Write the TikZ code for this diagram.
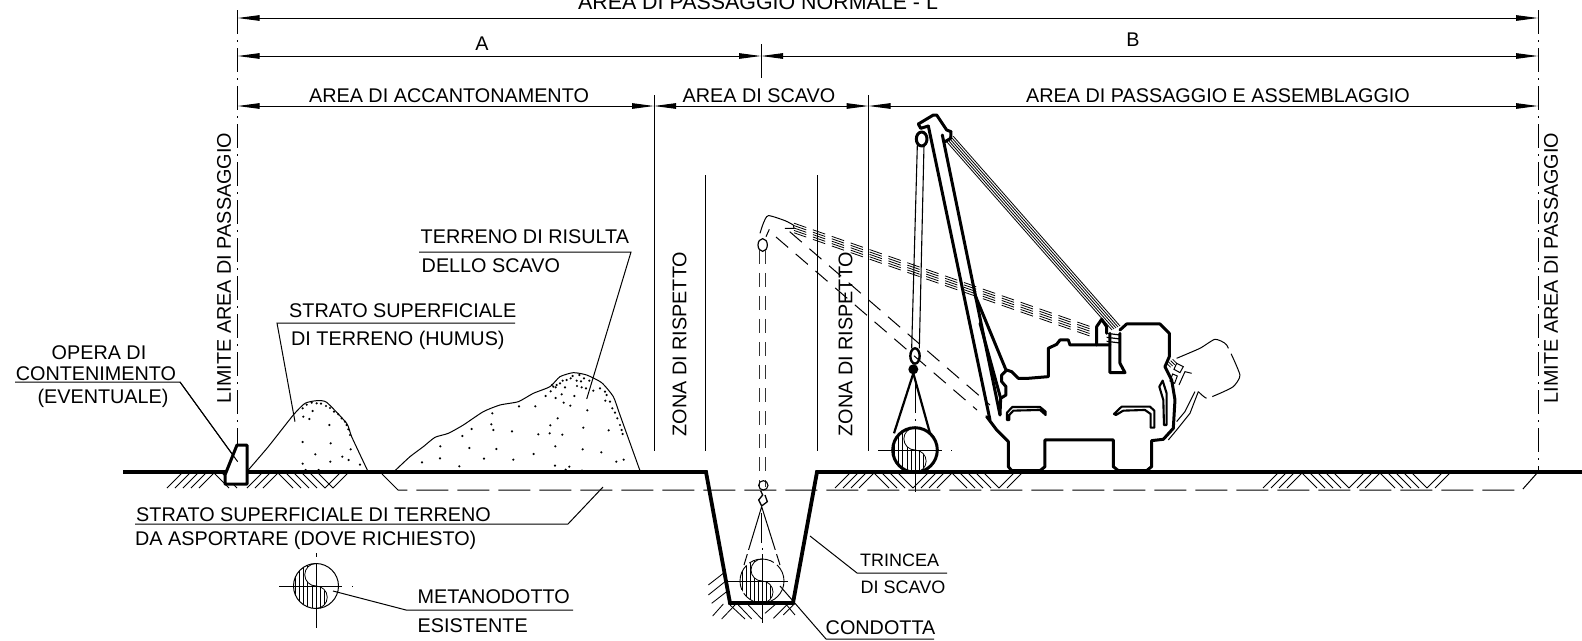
\documentclass[tikz,border=0pt]{standalone}
\usepackage{fontspec}
\setmainfont{Liberation Sans}
\usetikzlibrary{arrows.meta}
\newcommand\pipesym[4]{%
\begin{scope}[shift={(#1,#2)}]
\begin{scope}
\clip (0,-#3) arc[start angle=270,end angle=90,radius=#3/2] arc[start angle=-90,end angle=90,radius=#3/2] arc[start angle=90,end angle=270,radius=#3];
\foreach \k in {-5,...,5} \draw[line width=.8pt] ({\k*#3/5.5},-#3)--({\k*#3/5.5},#3);
\end{scope}
\draw[line width=.8pt] (0,-#3) arc[start angle=270,end angle=90,radius=#3/2] arc[start angle=-90,end angle=90,radius=#3/2];
\draw[#4] (0,0) circle[radius=#3];
\end{scope}}
\tikzset{
 lab/.style={inner sep=0pt,yshift=-1pt,font=\fontsize{19.8}{21}\selectfont,text=black},
 labs/.style={inner sep=0pt,yshift=-.5pt,font=\fontsize{18}{20}\selectfont,text=black},
 thin line/.style={line width=1pt,draw=black},
 dim/.style={line width=1pt,draw=black,{Triangle[length=22pt,width=5.5pt]}-{Triangle[length=22pt,width=5.5pt]}},
 limit/.style={line width=1pt,dash pattern=on 24pt off 6pt on 2pt off 6pt},
 ground/.style={line width=3.8pt,line join=miter},
 hatchl/.style={line width=.85pt},
 body/.style={line width=3pt,line join=round,line cap=round},
 ghost/.style={line width=1pt,dash pattern=on 14pt off 9pt},
 dots/.style={line width=1pt,dash pattern=on 32pt off 9pt}
}
\begin{document}
\begin{tikzpicture}[x=1pt,y=-1pt]
\useasboundingbox (0,0) rectangle (1582,640);
\fill[white] (0,0) rectangle (1582,640);
% reference coordinates
\coordinate (LT) at (237.5,10); \coordinate (LB) at (237.5,445);
\coordinate (RT) at (1538,10);  \coordinate (RB) at (1538,472);
\coordinate (L0) at (237.5,18); \coordinate (R0) at (1538,18);
\coordinate (L1) at (237.5,56); \coordinate (R1) at (1538,56); \coordinate (M1) at (761,56);
\coordinate (L2) at (237.5,106);\coordinate (R2) at (1538,106);\coordinate (P2) at (654,106);\coordinate (Q2) at (868.5,106);
\draw[limit] (LT)--(LB);
\draw[limit] (RT)--(RB);
\draw[dim] (L0)--(R0);
\draw[dim] (L1)--(M1);
\draw[dim] (M1)--(R1);
\draw[dim] (L2)--(P2);
\draw[dim] (P2)--(Q2);
\draw[dim] (Q2)--(R2);
\coordinate (MT) at (761,44); \coordinate (MB) at (761,78);
\draw[thin line] (MT)--(MB);
\coordinate (PT) at (654,95); \coordinate (PB) at (654,451);
\coordinate (QT) at (868.5,95); \coordinate (QB) at (868.5,451);
\coordinate (ZT) at (705,175); \coordinate (ZB) at (705,451);
\coordinate (YT) at (817,175); \coordinate (YB) at (817,451);
\draw[thin line] (PT)--(PB);
\draw[thin line] (QT)--(QB);
\draw[thin line] (ZT)--(ZB);
\draw[thin line] (YT)--(YB);
% texts
\node[lab,font=\fontsize{21.4}{22}\selectfont] (t0) at (758,1.5) {AREA DI PASSAGGIO NORMALE - L};
\node[lab] (tA) at (482,43) {A};
\node[lab] (tB) at (1133,39) {B};
\node[lab] (t1) at (449,95) {AREA DI ACCANTONAMENTO};
\node[lab] (t2) at (759,95) {AREA DI SCAVO};
\node[lab] (t3) at (1218,95) {AREA DI PASSAGGIO E ASSEMBLAGGIO};
\node[lab,rotate=90] (t4) at (224,267) {LIMITE AREA DI PASSAGGIO};
\node[lab,rotate=90] (t5) at (1551,267) {LIMITE AREA DI PASSAGGIO};
\node[lab,rotate=90] (t6) at (679.5,343) {ZONA DI RISPETTO};
\node[lab,rotate=90] (t7) at (845.5,343) {ZONA DI RISPETTO};
\node[lab] (t8) at (99,352) {OPERA DI};
\node[lab] (t9) at (96,373) {CONTENIMENTO};
\node[lab] (t10) at (103,397) {(EVENTUALE)};
\node[lab,anchor=west] (t11) at (420.5,236) {TERRENO DI RISULTA};
\node[lab,anchor=west] (t12) at (421.5,265) {DELLO SCAVO};
\node[lab,anchor=west] (t13) at (289,310) {STRATO SUPERFICIALE};
\node[lab,anchor=west] (t14) at (291,339) {DI TERRENO (HUMUS)};
\node[lab,anchor=west] (t15) at (136,514) {STRATO SUPERFICIALE DI TERRENO};
\node[lab,anchor=west] (t16) at (135,539) {DA ASPORTARE (DOVE RICHIESTO)};
\node[lab,anchor=west] (t17) at (417.5,596) {METANODOTTO};
\node[lab,anchor=west] (t18) at (417.5,625) {ESISTENTE};
\node[labs,anchor=west] (t19) at (860,560) {TRINCEA};
\node[labs,anchor=west] (t20) at (860.5,587) {DI SCAVO};
\node[lab,anchor=west] (t21) at (825.5,627) {CONDOTTA};
% leaders
\coordinate (a1) at (15,382); \coordinate (a2) at (180,382); \coordinate (a3) at (237.7,461.7);
\draw[thin line] (a1)--(a2)--(a3);
\coordinate (b1) at (419,252); \coordinate (b2) at (631,252); \coordinate (b3) at (586.7,399);
\draw[thin line] (b1)--(b2)--(b3);
\coordinate (c1) at (515,323); \coordinate (c2) at (277,323); \coordinate (c3) at (295,421.7);
\draw[thin line] (c1)--(c2)--(c3);
\coordinate (d1) at (135,524); \coordinate (d2) at (568,524); \coordinate (d3) at (603,487);
\draw[thin line] (d1)--(d2)--(d3);
\coordinate (e1) at (333,591); \coordinate (e2) at (406,610); \coordinate (e3) at (573,610);
\draw[thin line] (e1)--(e2)--(e3);
\coordinate (f1) at (810,536); \coordinate (f2) at (857,573); \coordinate (f3) at (947,573);
\draw[thin line] (f1)--(f2)--(f3);
\coordinate (g1) at (780,586); \coordinate (g2) at (826,639); \coordinate (g3) at (934,639);
\draw[thin line] (g1)--(g2)--(g3);
% hatching
\foreach \x/\d in {182/-1,190/-1,198/-1,206/-1,214/-1,214/1,222/1,262/-1,270/-1,278/-1,278/1,286/1,294/1,302/1,310/1,318/1,348/-1,340/-1}
 \draw[hatchl] (\x,473)--(\x+\d*15,488);
\foreach \x/\d in {850/-1,858/-1,866/-1,874/-1,874/1,882/1,890/1,898/1,928/-1,936/-1,944/-1,952/-1,952/1,960/1,968/1,976/1,984/1,1014/-1,1022/-1}
 \draw[hatchl] (\x,473)--(\x+\d*15,488);
\foreach \x/\d in {1278/-1,1286/-1,1294/-1,1302/-1,1302/1,1310/1,1318/1,1326/1,1334/1,1364/-1,1372/-1,1380/-1,1380/1,1388/1,1396/1,1404/1,1412/1,1442/-1,1450/-1}
 \draw[hatchl] (\x,473)--(\x+\d*15,488);
\begin{scope}[shift={(680,450)},x=.3333pt,y=-.3333pt]
\foreach \a/\b/\c/\d in {85/405/130/370,85/435/135/395,95/460/140/425,98/498/130/462,125/507/165/465,150/465/195/507,175/465/215/507,205/465/245/507,255/490/290/460,280/505/320/465,310/495/340/465,320/465/345/495}
 \draw[hatchl] (\a,\b)--(\c,\d);
\end{scope}
% piles
\begin{scope}[shift={(120,370)},x=.3333pt,y=-.3333pt]
\draw[line width=1pt] plot[smooth,tension=.35] coordinates {(385,300)(445,230)(520,135)(555,100)(590,92)(620,97)(680,160)(695,200)(742,300)};
\foreach \a/\b in {550/140,568/147,578/123,628/165,548/216,632/220,692/238,586/253,667/260,686/270,548/281,631/275,720/284,557/300,596/300,548/115,560/104,575/98,590/100,603/101,618/108,630/114,642/125,655/133,665/145,675/155,680/165,685/178,690/195}
 \fill (\a,\b) circle (1.2pt);
\end{scope}
\begin{scope}[shift={(380,350)},x=.3333pt,y=-.3333pt]
\draw[line width=1pt] plot[smooth,tension=.35] coordinates {(45,362)(90,320)(130,290)(165,262)(205,250)(250,225)(310,185)(360,165)(415,155)(460,130)(510,110)(540,80)(580,68)(620,75)(665,98)(700,140)(720,195)(780,362)};
\foreach \a/\b in {126/337,180/325,238/349,312/326,400/329,461/312,525/347,543/363,557/359,568/350,606/362,709/335,731/329,664/307,608/298,526/289,349/297,268/294,181/289,247/258,275/237,340/240,334/223,396/244,475/253,509/250,547/254,511/226,533/205,610/233,686/241,622/181,337/190,417/169,466/169,551/158,571/167,583/138,527/144,545/133,497/138,512/124,520/110,530/105,540/100,548/92,560/90,572/85,578/78,590/92,603/94,598/75,612/85,628/92,591/108,605/112,618/115,640/122,660/115,675/125,680/135,676/152,690/155,697/175,705/188,712/205,720/225,725/240,728/252,516/105,527/112,555/112}
 \fill (\a,\b) circle (1.2pt);
\end{scope}
% ground
\coordinate (G0) at (123,472); \coordinate (T1) at (706,472); \coordinate (T2) at (730,603);
\coordinate (T3) at (793,603); \coordinate (T4) at (817,472); \coordinate (G1) at (1582,472);
\draw[ground] (G0)--(T1)--(T2)--(T3)--(T4)--(G1);
% dashed strip line
\coordinate (s1) at (382,474); \coordinate (s2) at (398,490); \coordinate (s3) at (1522,490); \coordinate (s4) at (1538,472);
\draw[dots] (s1)--(s2)--(s3)--(s4);
% wall
\draw[line width=3pt,line join=round,fill=white] (237,445)--(247,445)--(247,484)--(225,484)--(225,475)--cycle;
\draw[thin line] (237.7,461.7)--(a2);
% existing pipeline
\pipesym{316}{586}{22.5}{line width=1pt}
\draw[line width=1pt] (279,586)--(342,586) (352,586)--(353,586) (316,553)--(316,557) (316,563)--(316,628);
% trench ghost pipe
\pipesym{762}{581}{22}{line width=.9pt,dash pattern=on 26pt off 4pt}
\draw[line width=1pt] (728,581)--(788,581) (762,548)--(762,623);
% slung pipe
\pipesym{915}{450}{22.3}{line width=3pt}
\draw[line width=1pt] (878,450)--(942,450) (951,450)--(952,450) (915,428)--(915,492);
% ghost crane
\begin{scope}[shift={(690,200)},x=.3333pt,y=-.3333pt]
\draw[line width=1pt,line join=round] plot[smooth,tension=.4] coordinates {(210,100)(220,70)(235,47)(285,62)(310,75)};
\draw[line width=1pt] (310,75)--(312,85)--(285,85);
\draw[line width=1pt] (228,110)--(238,88);
\draw[line width=1.2pt] (218,135) ellipse[x radius=14,y radius=19];
\foreach \X in {208,226} \draw[ghost,draw=black!80] (\X,150)--(\X,860);
\end{scope}
\coordinate (ga1) at (789.7,231.7); \coordinate (ga2) at (990,405);
\coordinate (gb1) at (776,237); \coordinate (gb2) at (977,410);
\draw[ghost,dash pattern=on 16pt off 10pt] (ga1)--(ga2);
\draw[ghost,dash pattern=on 16pt off 10pt] (gb1)--(gb2);
\foreach \k in {-2,-1,0,1,2}
 \draw[line width=.8pt,dash pattern=on 13pt off 7pt] (794,{228+\k*2.4})--(1095,{333+\k*2.4});
% hook in trench
\begin{scope}[shift={(680,450)},x=.3333pt,y=-.3333pt]
\draw[line width=1.1pt] (250,106) ellipse[x radius=14,y radius=14];
\draw[line width=1.3pt] (242,122)--(248,135)--(236,150)--(245,168)--(262,155)--(255,135);
\draw[line width=1pt] (245,170)--(192,345) (245,170)--(300,345);
\draw[line width=1pt,dash pattern=on 30pt off 12pt] (245,190)--(245,300);
\fill[white] (200,200) rectangle (225,225);
\fill[white] (270,205) rectangle (290,230);
\fill[white] (178,300) rectangle (320,312);
\end{scope}
% crane
\begin{scope}[shift={(880,100)},x=.3333pt,y=-.3333pt]
\draw[body] (320,950)--(350,990)--(385,1025)--(385,1100)--(395,1112)--(480,1112)--(495,1100)--(495,1020)--(700,1020)--(700,1100)--(715,1112)--(800,1112)--(815,1100)--(815,1022)--(850,1018)--(880,985)--(885,900)--(875,840)--(855,800)--(868,770)--(868,700)--(840,672)--(740,672)--(720,690);
\draw[body] (690,735)--(650,735)--(570,735)--(565,720)--(540,720)--(530,733)--(505,745)--(505,830)--(445,835)--(415,835)--(395,815)--(380,810)--(365,825)--(365,845)--(378,860)--(378,885)--(362,895)--(360,945);
\draw[body] (650,735)--(650,680)--(665,658)--(680,680)--(680,700);
\draw[body] (690,700)--(690,818)--(735,818)--(720,790)--(720,700);
\draw[line width=1.2pt] (680,700)--(720,705) (680,712)--(720,717) (680,724)--(720,729);
% boom
\draw[body] (145,78)--(330,960);
\draw[body] (187,105)--(360,945);
\draw[body] (285,585)--(378,810);
\draw[body] (300,670)--(362,895);
\draw[body] (115,72)--(160,45)--(170,45)--(200,90)--(213,95)--(212,115)--(195,125);
\draw[body] (115,72)--(122,85)--(145,78);
\draw[body] (125,117) ellipse[x radius=16,y radius=21];
% cables to the stern
\foreach \k in {0,...,4}
 \draw[line width=.8pt] ({200+\k*5},{125-\k*4})--({696+\k*6},{690-\k*3});
\draw[line width=1.1pt] (112,135)--(95,745);
\draw[line width=1.1pt] (132,135)--(118,745);
% hook and sling
\draw[line width=2.4pt] (105,768) ellipse[x radius=14,y radius=23];
\fill (100,808) circle (5pt);
\draw[line width=2.2pt] (100,820)--(42,1000);
\draw[line width=2.2pt] (100,820)--(150,1000);
\draw[line width=1pt,dash pattern=on 30pt off 6pt on 2pt off 6pt] (105,850)--(105,985);
% brackets
\draw[line width=2.1pt,line join=round] (381,960)--(381,938)--(397,921)--(480,921)--(497,935)--(497,945)--(480,930)--(400,932)--(388,945)--(388,960)--cycle;
\draw[line width=2.1pt,line join=round] (702,942)--(725,920)--(810,920)--(823,932)--(823,983)--(812,983)--(812,942)--(795,930)--(730,932)--(708,945)--cycle;
\draw[line width=2.1pt,line join=round] (838,860)--(848,842)--(860,880)--(860,975)--(852,975)--(850,900)--cycle;
% driver
\draw[line width=1pt,dash pattern=on 60pt off 6pt,line join=round] plot[smooth,tension=.3] coordinates {(890,775)(960,745)(1005,718)(1040,735)(1080,825)(1060,860)(1020,880)(980,895)(955,875)};
\draw[line width=1pt] (955,875)--(930,940)--(890,990)--(865,1020);
\draw[line width=1pt] (945,875)--(915,935)--(890,965);
\draw[line width=1pt] (890,790)--(910,800)--(900,818)--(882,808)--cycle;
\draw[line width=1pt] (878,822)--(892,828)--(884,850)--(870,843)--cycle;
\draw[line width=1pt] (935,820)--(915,815)--(897,855);
\foreach \k in {0,1,2,3} \draw[line width=.8pt] ({860+\k*6},{790-\k*4})--({872+\k*6},{802-\k*4});
\end{scope}
\end{tikzpicture}
\end{document}
